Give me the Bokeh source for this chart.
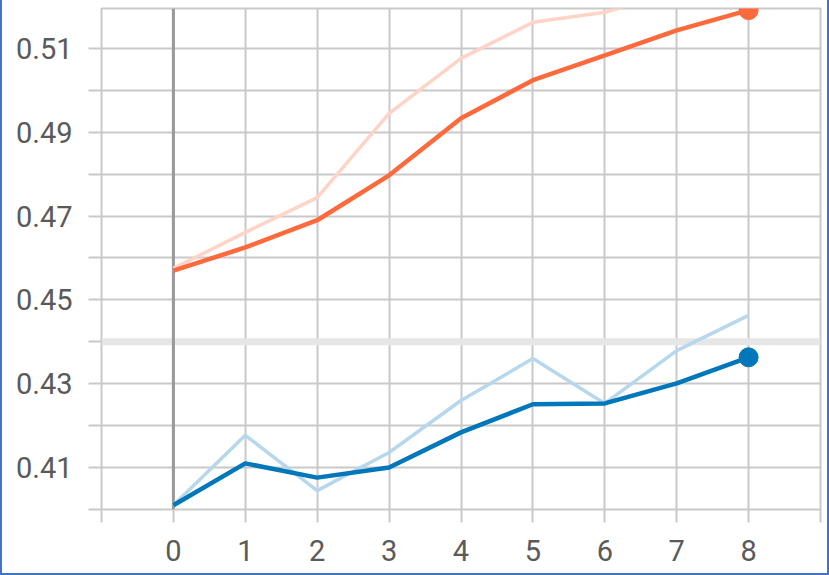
from bokeh.plotting import figure
from bokeh.models import FixedTicker, Span, Range1d, PrintfTickFormatter, ColumnDataSource
from bokeh.embed import file_html
from bokeh.resources import INLINE

# ---- data ----
steps = [0, 1, 2, 3, 4, 5, 6, 7, 8]
orange_raw = [0.4575, 0.4661, 0.4744, 0.4945, 0.5076, 0.5162, 0.5186, 0.5235, 0.5268]
orange_smooth = [0.4570, 0.4625, 0.4690, 0.4797, 0.4933, 0.5024, 0.5083, 0.5143, 0.5191]
blue_raw = [0.4010, 0.4177, 0.4045, 0.4136, 0.4260, 0.4360, 0.4253, 0.4379, 0.4463]
blue_smooth = [0.4010, 0.4110, 0.4076, 0.4100, 0.4184, 0.4251, 0.4253, 0.4301, 0.4363]
x_ticks = [0, 1, 2, 3, 4, 5, 6, 7, 8]
x_minor = [-1, 9]
y_ticks = [0.41, 0.43, 0.45, 0.47, 0.49, 0.51]
y_minor = [0.40, 0.42, 0.44, 0.46, 0.48, 0.50, 0.52]

GRID = "#c9c9c9"
LABEL = "#5a5a5a"
ORANGE = "#ff6a3d"
ORANGE_LIGHT = "#ffd3c5"
BLUE = "#0077bb"
BLUE_LIGHT = "#b6d7ec"
FRAME_BLUE = "#4472c4"

p = figure(width=829, height=575, output_backend="svg", toolbar_location=None,
           x_range=Range1d(-1, 9), y_range=Range1d(0.40, 0.5195),
           min_border_left=101, min_border_right=9, min_border_top=8, min_border_bottom=66)

p.outline_line_color = GRID
p.outline_line_width = 2
p.background_fill_color = "white"
p.border_fill_color = None
p.styles = {"box-shadow": f"inset 2px 0 0 {FRAME_BLUE}, inset -2px 0 0 {FRAME_BLUE}, inset 0 -2px 0 {FRAME_BLUE}"}

# grid
for g in (p.xgrid, p.ygrid):
    g.grid_line_color = GRID
    g.grid_line_width = 2
    g.minor_grid_line_color = GRID
    g.minor_grid_line_width = 2

p.xaxis.ticker = FixedTicker(ticks=x_ticks, minor_ticks=x_minor)
p.yaxis.ticker = FixedTicker(ticks=y_ticks, minor_ticks=y_minor)
p.yaxis.formatter = PrintfTickFormatter(format="%.2f")

for ax in (p.xaxis, p.yaxis):
    ax.axis_line_color = None
    ax.major_tick_line_color = GRID
    ax.major_tick_line_width = 2
    ax.major_tick_in = 0
    ax.major_tick_out = 13
    ax.minor_tick_line_color = GRID
    ax.minor_tick_line_width = 2
    ax.minor_tick_in = 0
    ax.minor_tick_out = 13
    ax.major_label_text_font = "Roboto"
    ax.major_label_text_font_size = "29px"
    ax.major_label_text_color = LABEL

p.xaxis.major_label_standoff = 17
p.yaxis.major_label_standoff = 16

# band artifact at 0.44 and zero line
p.add_layout(Span(location=0.44, dimension="width", line_color="#e6e6e6",
                  line_width=7, level="underlay"))
p.add_layout(Span(location=0, dimension="height", line_color="#999999",
                  line_width=3, level="underlay"))

src = ColumnDataSource(dict(x=steps, orr=orange_raw, osm=orange_smooth,
                            br=blue_raw, bsm=blue_smooth))

p.line("x", "orr", source=src, line_color=ORANGE_LIGHT, line_width=3.5)
p.line("x", "br", source=src, line_color=BLUE_LIGHT, line_width=3.5)
p.line("x", "osm", source=src, line_color=ORANGE, line_width=4.5)
p.line("x", "bsm", source=src, line_color=BLUE, line_width=4.5)

p.scatter([steps[-1]], [orange_smooth[-1]], size=19, color=ORANGE)
p.scatter([steps[-1]], [blue_smooth[-1]], size=19, color=BLUE)

open("out.html", "w").write(file_html(p, INLINE))
